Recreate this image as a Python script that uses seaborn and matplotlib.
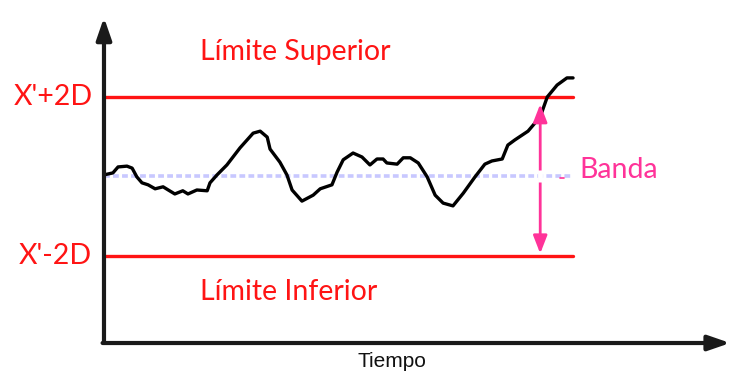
import matplotlib
matplotlib.use("Agg")
import matplotlib.pyplot as plt
import seaborn as sns
import pandas as pd

# ---- data (X' = 0, D = 1 ; time 0..100) ----
tiempo = [0.0, 1.9, 3.0, 4.9, 6.0, 7.0, 8.1, 9.4, 10.9, 12.6, 13.7, 15.1, 16.8, 17.9,
          19.8, 22.0, 22.6, 24.1, 26.2, 29.0, 31.8, 33.3, 34.8, 35.4, 37.5, 39.0, 40.1,
          42.2, 44.6, 46.1, 48.6, 49.7, 51.0, 53.1, 55.0, 56.7, 58.2, 59.5, 60.3, 62.5,
          63.8, 65.3, 67.0, 68.9, 70.6, 72.3, 74.4, 76.6, 79.1, 81.2, 82.7, 84.9, 86.1,
          87.6, 90.4, 93.0, 94.5, 96.6, 98.7, 100.0]
valor = [0.04, 0.09, 0.24, 0.26, 0.21, -0.01, -0.16, -0.21, -0.31, -0.26, -0.34, -0.44,
         -0.36, -0.44, -0.34, -0.36, -0.16, 0.04, 0.29, 0.72, 1.09, 1.14, 0.99, 0.69,
         0.36, 0.04, -0.34, -0.62, -0.47, -0.31, -0.21, 0.11, 0.42, 0.59, 0.49, 0.29,
         0.44, 0.44, 0.34, 0.31, 0.47, 0.47, 0.34, -0.01, -0.47, -0.67, -0.74, -0.42,
         -0.01, 0.31, 0.39, 0.44, 0.79, 0.92, 1.14, 1.50, 2.00, 2.30, 2.48, 2.48]
media = 0.0
desviacion = 1.0
limite_superior = media + 2 * desviacion
limite_inferior = media - 2 * desviacion
t_fin = 100.0
t_banda = 93.0

etiquetas_limites = ["X'+2D", "X'-2D"]
texto_superior = "Límite Superior"
texto_inferior = "Límite Inferior"
texto_banda = "Banda"
texto_eje_x = "Tiempo"

sns.set_theme(style="white")
plt.rcParams['font.family'] = ['Lato', 'DejaVu Sans']

fig = plt.figure(figsize=(7.33, 3.76), dpi=100)
ax = fig.add_axes([0, 0, 1, 1])
ax.set_xlim(-22.17, 134.1)
ax.set_ylim(-5.02, 4.44)
ax.axis("off")

ROJO = "#FF1414"
ROSA = "#FF3399"

# limits and band
ax.plot([0, t_fin], [limite_superior] * 2, color=ROJO, lw=2.4, zorder=2)
ax.plot([0, t_fin], [limite_inferior] * 2, color=ROJO, lw=2.4, zorder=2)
ax.plot([0, t_fin], [media] * 2, color="#C8C8FF", lw=2.6, dashes=(1.6, 0.9), zorder=1)

# series
df = pd.DataFrame({"t": tiempo, "v": valor})
sns.lineplot(data=df, x="t", y="v", sort=False, color="black", lw=2.4, ax=ax, zorder=3)

# axes arrows
ax.annotate("", xy=(0, 4.0), xytext=(0, -4.19),
            arrowprops=dict(arrowstyle="-|>,head_length=1.1,head_width=0.38", lw=3,
                            color="#1a1a1a", shrinkA=0, shrinkB=0), zorder=4)
ax.annotate("", xy=(133.5, -4.19), xytext=(-0.3, -4.19),
            arrowprops=dict(arrowstyle="-|>,head_length=1.1,head_width=0.38", lw=3,
                            color="#1a1a1a", shrinkA=0, shrinkB=0), zorder=4)

# band arrow (with a small break at the band line)
ax.annotate("", xy=(t_banda, limite_superior - 0.18), xytext=(t_banda, limite_inferior + 0.06),
            arrowprops=dict(arrowstyle="<|-|>,head_length=0.9,head_width=0.35", lw=2,
                            color=ROSA, shrinkA=0, shrinkB=0), zorder=5)
ax.plot([t_banda, t_banda], [media + 0.17, media - 0.15], color="white", lw=3.5,
        solid_capstyle="butt", zorder=6)
ax.plot([t_banda + 4.3, t_banda + 5.0], [media - 0.05, media - 0.05], color=ROSA, lw=1.2, zorder=6)

# texts
FS = 20.5
ax.text(20.5, 3.13, texto_superior, color=ROJO, fontsize=FS, ha="left", va="center")
ax.text(20.5, -2.91, texto_inferior, color=ROJO, fontsize=FS, ha="left", va="center")
ax.text(-2.4, limite_superior, etiquetas_limites[0], color=ROJO, fontsize=FS, ha="right", va="center")
ax.text(-2.6, limite_inferior, etiquetas_limites[1], color=ROJO, fontsize=FS, ha="right", va="center")
ax.text(101.3, 0.16, texto_banda, color=ROSA, fontsize=FS, ha="left", va="center")
ax.text(61.4, -4.66, texto_eje_x, color="#111111", fontsize=15, ha="center", va="center",
        family=['Liberation Sans Narrow', 'Liberation Sans', 'DejaVu Sans'])

fig.savefig("out.png", dpi=100)
